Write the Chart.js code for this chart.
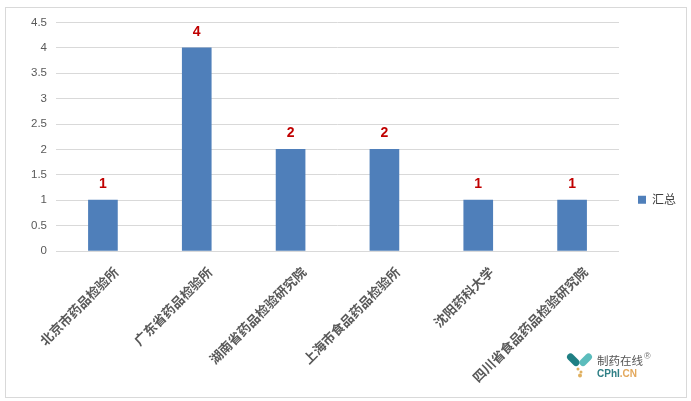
<!DOCTYPE html>
<html>
<head>
<meta charset="utf-8">
<style>
  html, body { margin: 0; padding: 0; background: #fff; }
  #wrap { position: relative; width: 691px; height: 401px; overflow: hidden; }
  #frame { position: absolute; left: 5px; top: 7px; width: 680px; height: 389px; border: 1px solid #d9d9d9; pointer-events: none; }
  #logo { position: absolute; left: 566px; top: 352px; width: 27px; height: 26px; }
  .wm { position: absolute; white-space: nowrap; font-family: "Noto Sans CJK SC", sans-serif; }
</style>
</head>
<body>
<div id="wrap">
  <canvas id="chart" width="691" height="401"></canvas>
  <div id="frame"></div>
  <svg id="logo" viewBox="0 0 27 26">
    <line x1="4.5" y1="5" x2="10" y2="10.5" stroke="#1f7f83" stroke-width="7" stroke-linecap="round"/>
    <line x1="22.5" y1="5" x2="17" y2="10.5" stroke="#5bbcbc" stroke-width="7" stroke-linecap="round"/>
    <circle cx="12" cy="17" r="1.5" fill="#e0b060"/>
    <circle cx="15" cy="20" r="1.5" fill="#e0b060"/>
    <circle cx="14" cy="23.5" r="2" fill="#e0b060"/>
  </svg>
  <div class="wm" style="left:597px;top:352px;font-size:11.5px;color:#555;">制药在线</div>
  <div class="wm" style="left:644px;top:351px;font-size:9px;font-family:'Liberation Sans',sans-serif;color:#777;">®</div>
  <div class="wm" style="left:597px;top:368px;font-size:10px;font-weight:700;font-family:'Liberation Sans',sans-serif;color:#2f7f85;">CPhI<span style="color:#e3a85c;">.CN</span></div>
</div>
<script src="https://cdn.jsdelivr.net/npm/chart.js@4"></script>
<script>
const categories = ['北京市药品检验所', '广东省药品检验所', '湖南省药品检验研究院', '上海市食品药品检验所', '沈阳药科大学', '四川省食品药品检验研究院'];
const values = [1, 4, 2, 2, 1, 1];
const seriesName = '汇总';
const yTickLabels = ['0', '0.5', '1', '1.5', '2', '2.5', '3', '3.5', '4', '4.5'];

// etiquetas rojas encima de cada barra
const barLabels = {
  id: 'barLabels',
  afterLayout(chart) {
    // la leyenda va centrada en todo el lienzo, no en el area del grafico
    chart.legend.left -= 5;
    chart.legend.top -= 24;
  },
  afterDatasetsDraw(chart) {
    const { ctx } = chart;
    const meta = chart.getDatasetMeta(0);
    ctx.save();
    ctx.fillStyle = '#c00000';
    ctx.font = 'bold 14px "Liberation Sans", sans-serif';
    ctx.textAlign = 'center';
    ctx.textBaseline = 'middle';
    meta.data.forEach((bar, i) => ctx.fillText(values[i], bar.x, bar.y - 16));
    ctx.restore();
  }
};

new Chart(document.getElementById('chart'), {
  type: 'bar',
  data: {
    labels: categories,
    datasets: [{
      label: seriesName,
      data: values,
      backgroundColor: '#4f7fba',
      barThickness: 29
    }]
  },
  options: {
    responsive: false,
    animation: false,
    layout: { padding: { top: 22.4, right: 0, bottom: 0, left: 0 } },
    scales: {
      y: {
        min: 0,
        max: 4.5,
        afterFit(s) { s.width = 56; },
        grid: { color: '#d9d9d9', drawTicks: false },
        border: { display: false },
        ticks: {
          stepSize: 0.5,
          padding: 9,
          color: '#595959',
          font: { family: '"Liberation Sans", sans-serif', size: 11.5 },
          callback: (v, i) => yTickLabels[i]
        }
      },
      x: {
        afterFit(s) { s.height = 150; },
        grid: { display: false },
        border: { color: '#d9d9d9' },
        ticks: {
          minRotation: 45,
          maxRotation: 45,
          autoSkip: false,
          padding: 5,
          labelOffset: 13,
          color: '#595959',
          font: { family: '"Noto Sans CJK SC", sans-serif', size: 13, weight: 'bold' }
        }
      }
    },
    plugins: {
      tooltip: { enabled: false },
      legend: {
        display: true,
        position: 'right',
        labels: {
          boxWidth: 8,
          boxHeight: 8,
          padding: 24,
          color: '#404040',
          font: { family: '"Noto Sans CJK SC", sans-serif', size: 12 }
        }
      }
    }
  },
  plugins: [barLabels]
});
</script>
</body>
</html>
